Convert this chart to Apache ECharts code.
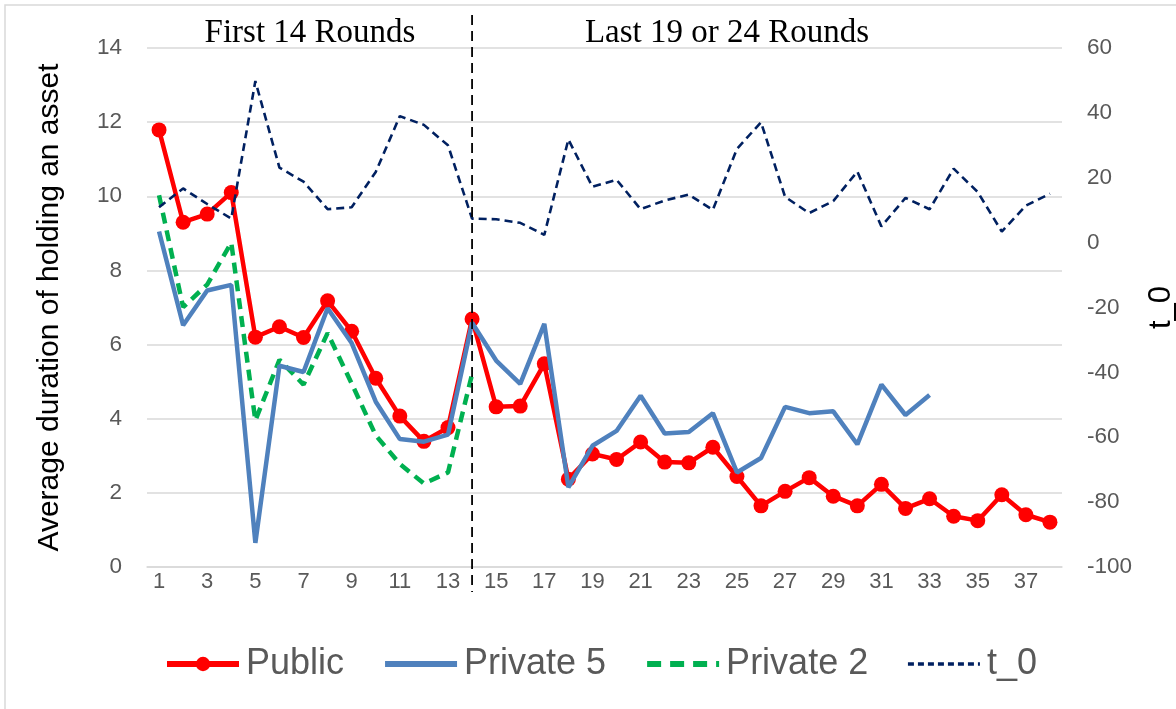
<!DOCTYPE html>
<html>
<head>
<meta charset="utf-8">
<script src="https://cdn.jsdelivr.net/npm/echarts@6/dist/echarts.min.js"></script>
<style>
html,body{margin:0;padding:0;background:#fff;overflow:hidden;}
#chart{width:1176px;height:709px;}
</style>
</head>
<body>
<div id="chart"></div>
<script>
const rounds = ['1','2','3','4','5','6','7','8','9','10','11','12','13','14','15','16','17','18','19','20','21','22','23','24','25','26','27','28','29','30','31','32','33','34','35','36','37','38'];
const publicVals = [11.79,9.30,9.52,10.10,6.20,6.48,6.19,7.18,6.36,5.09,4.07,3.39,3.76,6.69,4.32,4.34,5.48,2.37,3.05,2.90,3.37,2.83,2.81,3.23,2.44,1.65,2.04,2.41,1.91,1.65,2.23,1.58,1.84,1.37,1.25,1.95,1.41,1.21];
const private5Vals = [9.05,6.52,7.46,7.61,0.65,5.43,5.26,6.98,6.04,4.46,3.45,3.38,3.57,6.59,5.57,4.94,6.56,2.15,3.27,3.67,4.62,3.60,3.64,4.15,2.55,2.94,4.32,4.15,4.20,3.31,4.92,4.10,4.64,null,null,null,null,null];
const private2Vals = [10.03,7.01,7.62,8.75,3.95,5.59,4.92,6.31,4.95,3.55,2.78,2.25,2.55,5.20,null,null,null,null,null,null,null,null,null,null,null,null,null,null,null,null,null,null,null,null,null,null,null,null];
const t0Vals = [10.9,16.7,11.9,7.4,49.8,23.1,18.8,10.3,10.9,21.8,39.0,36.3,30.0,7.4,7.2,6.1,2.4,31.8,17.2,19.4,10.3,13.0,14.8,10.1,28.9,37.1,14.1,9.1,12.8,21.9,5.0,13.8,10.3,22.8,15.6,3.4,11.4,15.1];
const leftTicks = {min:0, max:14, interval:2};
const rightTicks = {min:-100, max:60, interval:20};
const splitRound = '14';
const sectionLabels = ['First 14 Rounds','Last 19 or 24 Rounds'];

const chart = echarts.init(document.getElementById('chart'));
const sans = 'Liberation Sans, Arial, sans-serif';
const option = {
  animation:false,
  backgroundColor:'#fff',
  grid:{left:147, right:114, top:48, bottom:142, containLabel:false, outerBoundsMode:'none'},
  legend:{
    left:164, top:646, padding:0,
    itemWidth:72, itemHeight:18, itemGap:38,
    textStyle:{fontFamily:sans, fontSize:36, color:'#595959', padding:[0,0,0,2]},
    data:[
      {name:'Public', lineStyle:{width:6}},
      {name:'Private 5', itemStyle:{opacity:0}, lineStyle:{width:6}},
      {name:'Private 2', itemStyle:{opacity:0}, lineStyle:{width:6, type:[14,9]}},
      {name:'t_0', itemStyle:{opacity:0}, lineStyle:{width:3.5, type:[6,4]}}
    ]
  },
  xAxis:{
    type:'category', data:rounds, boundaryGap:true,
    axisLine:{show:true, lineStyle:{color:'#d9d9d9', width:1.5}},
    axisTick:{show:false},
    axisLabel:{interval:1, fontFamily:sans, fontSize:22, color:'#595959', margin:4}
  },
  yAxis:[
    {type:'value', min:leftTicks.min, max:leftTicks.max, interval:leftTicks.interval,
     name:'Average duration of holding an asset', nameLocation:'middle', nameGap:82,
     nameTextStyle:{fontFamily:sans, fontSize:30, color:'#000'},
     axisLine:{show:false}, axisTick:{show:false},
     axisLabel:{fontFamily:sans, fontSize:22.5, color:'#595959', margin:25},
     splitLine:{lineStyle:{color:'#d9d9d9', width:1.5}}},
    {type:'value', min:rightTicks.min, max:rightTicks.max, interval:rightTicks.interval,
     name:'t_0', nameLocation:'middle', nameGap:84, nameRotate:90,
     nameTextStyle:{fontFamily:sans, fontSize:31, color:'#000'},
     axisLine:{show:false}, axisTick:{show:false},
     axisLabel:{fontFamily:sans, fontSize:22.5, color:'#595959', margin:25},
     splitLine:{show:false}}
  ],
  series:[
    {name:'Public', type:'line', data:publicVals, yAxisIndex:0,
     symbol:'circle', symbolSize:15, showSymbol:true,
     itemStyle:{color:'#ff0000'}, lineStyle:{color:'#ff0000', width:4.5}, z:3},
    {name:'Private 2', type:'line', data:private2Vals, yAxisIndex:0, showSymbol:false, symbol:'none',
     itemStyle:{color:'#00b050'}, lineStyle:{color:'#00b050', width:4.5, type:[11,7]}, z:4},
    {name:'Private 5', type:'line', data:private5Vals, yAxisIndex:0, showSymbol:false, symbol:'none',
     itemStyle:{color:'#4f81bd'}, lineStyle:{color:'#4f81bd', width:4.5}, z:5},
    {name:'t_0', type:'line', data:t0Vals, yAxisIndex:1, showSymbol:false, symbol:'none',
     itemStyle:{color:'#002060'}, lineStyle:{color:'#002060', width:2.6, type:[8,5]}, z:6}
  ]
};
chart.setOption(option);

const sx = chart.convertToPixel({xAxisIndex:0}, splitRound);
chart.setOption({
  graphic:[
    {type:'rect', shape:{x:5, y:5, width:1200, height:720}, style:{fill:null, stroke:'#d9d9d9', lineWidth:1.5}, z:0, silent:true},
    {type:'line', shape:{x1:sx, y1:15, x2:sx, y2:592}, style:{stroke:'#000', lineWidth:1.8, lineDash:[10,6]}, z:10},
    {type:'text', x:310, y:33, style:{text:sectionLabels[0], font:'33px "Liberation Serif", serif', fill:'#000', align:'center', verticalAlign:'middle'}, z:10},
    {type:'text', x:727, y:33, style:{text:sectionLabels[1], font:'33px "Liberation Serif", serif', fill:'#000', align:'center', verticalAlign:'middle'}, z:10}
  ]
});
</script>
</body>
</html>
